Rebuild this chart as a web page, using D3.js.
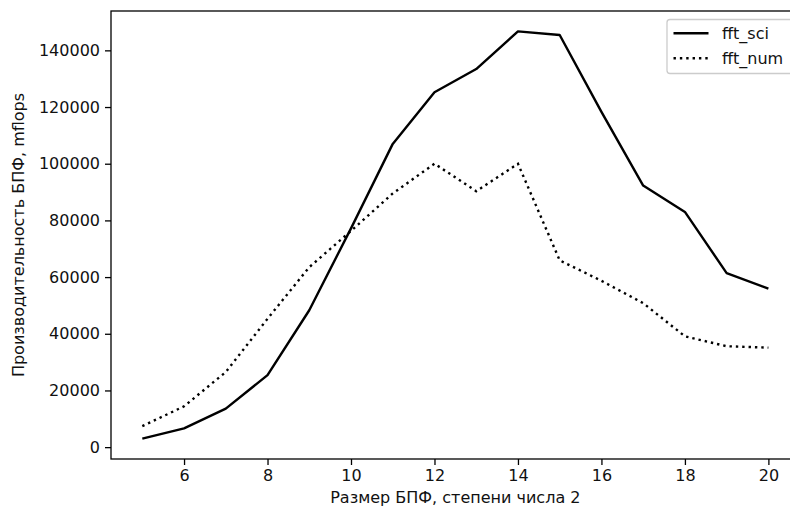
<!DOCTYPE html>
<html>
<head>
<meta charset="utf-8">
<script src="https://cdn.jsdelivr.net/npm/d3@7"></script>
<style>
  html, body { margin: 0; padding: 0; background: #fff; }
  svg { display: block; font-family: "DejaVu Sans", sans-serif; }
</style>
</head>
<body>
<svg id="chart" width="790" height="511"></svg>
<script>
const fftSizes = [5, 6, 7, 8, 9, 10, 11, 12, 13, 14, 15, 16, 17, 18, 19, 20];
const fftSci = [3000, 6600, 13600, 25400, 48300, 77200, 107000, 125200, 133400, 146700, 145400, 118300, 92300, 83000, 61400, 55900];
const fftNum = [7400, 14400, 26500, 45300, 63500, 76300, 89500, 100000, 90300, 100000, 65900, 58700, 50800, 39100, 35600, 35100];
const xTicks = [6, 8, 10, 12, 14, 16, 18, 20];
const yTicks = [0, 20000, 40000, 60000, 80000, 100000, 120000, 140000];
const seriesNames = ["fft_sci", "fft_num"];
const xLabel = "Размер БПФ, степени числа 2";
const yLabel = "Производительность БПФ, mflops";

(function () {
const svg = d3.select("#chart");
const mLeft = 111, mRight = 799.7, mTop = 11, mBottom = 459;
const fs = 16;
const txt = "#111";

const xMin = d3.min(fftSizes), xMax = d3.max(fftSizes);
const xPad = (xMax - xMin) * 0.05;
const allY = fftSci.concat(fftNum);
const yMin = d3.min(allY), yMax = d3.max(allY);
const yPad = (yMax - yMin) * 0.05;

const x = d3.scaleLinear().domain([xMin - xPad, xMax + xPad]).range([mLeft, mRight]);
const y = d3.scaleLinear().domain([yMin - yPad, yMax + yPad]).range([mBottom, mTop]);

const xAxis = d3.axisBottom(x).tickValues(xTicks).tickSize(6).tickPadding(5).tickFormat(d3.format("d"));
const yAxis = d3.axisLeft(y).tickValues(yTicks).tickSize(6).tickPadding(5).tickFormat(d3.format("d"));

const gx = svg.append("g").attr("transform", `translate(0,${mBottom})`).call(xAxis);
const gy = svg.append("g").attr("transform", `translate(${mLeft},0)`).call(yAxis);
[gx, gy].forEach(g => {
  g.select(".domain").remove();
  g.selectAll(".tick line").attr("stroke", "#000").attr("stroke-width", 1.3);
  g.selectAll(".tick text").attr("fill", txt).style("font-size", fs + "px").style("font-family", "DejaVu Sans, sans-serif");
});

const line = d3.line().x((d, i) => x(fftSizes[i])).y(d => y(d));
svg.append("path").datum(fftSci).attr("d", line)
  .attr("fill", "none").attr("stroke", "#000").attr("stroke-width", 2.4).attr("stroke-linejoin", "round");
svg.append("path").datum(fftNum).attr("d", line)
  .attr("fill", "none").attr("stroke", "#000").attr("stroke-width", 2.4)
  .attr("stroke-dasharray", "2.4,3.96");

svg.append("rect").attr("x", mLeft).attr("y", mTop).attr("width", mRight - mLeft).attr("height", mBottom - mTop)
  .attr("fill", "none").attr("stroke", "#000").attr("stroke-width", 1.3);

svg.append("text").attr("x", (mLeft + mRight) / 2).attr("y", 503)
  .attr("text-anchor", "middle").attr("fill", txt).style("font-size", fs + "px").text(xLabel);
svg.append("text").attr("transform", `translate(24,${(mTop + mBottom) / 2}) rotate(-90)`)
  .attr("text-anchor", "middle").attr("fill", txt).style("font-size", fs + "px").text(yLabel);

const lg = svg.append("g");
lg.append("rect").attr("x", 667).attr("y", 19.5).attr("width", 126).attr("height", 54).attr("rx", 3)
  .attr("fill", "#fff").attr("fill-opacity", 0.8).attr("stroke", "#ccc").attr("stroke-width", 1.3);
const styles = [null, "2.4,3.96"];
seriesNames.forEach((name, i) => {
  const yy = 33.3 + i * 25;
  const l = lg.append("line").attr("x1", 673.5).attr("x2", 708.5).attr("y1", yy).attr("y2", yy)
    .attr("stroke", "#000").attr("stroke-width", 2.4);
  if (styles[i]) l.attr("stroke-dasharray", styles[i]);
  lg.append("text").attr("x", 722).attr("y", yy).attr("dy", "0.35em").attr("fill", txt)
    .style("font-size", fs + "px").text(name);
});
})();
</script>
</body>
</html>
